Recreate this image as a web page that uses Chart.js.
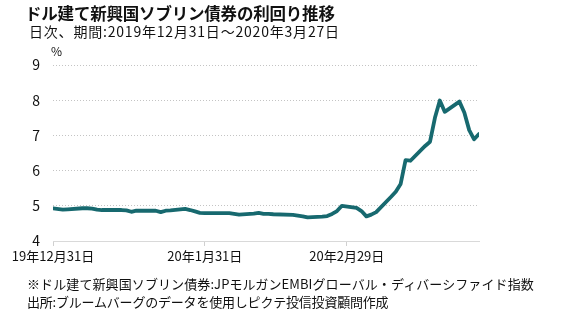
<!DOCTYPE html>
<html lang="ja">
<head>
<meta charset="utf-8">
<script src="https://cdn.jsdelivr.net/npm/chart.js@4"></script>
<style>
  html, body { margin: 0; padding: 0; background: #fff; }
  body { width: 575px; height: 322px; position: relative; overflow: hidden;
         font-family: "Noto Sans CJK JP", "Noto Sans", sans-serif; color: #111; }
  #wrap { position: absolute; left: 0; top: 0; width: 575px; height: 322px; }
  .txt { position: absolute; white-space: nowrap; line-height: 1; }
  #title { left: 25px; top: 5px; font-size: 16.5px; font-weight: bold; letter-spacing: -0.2px; }
  #sub { left: 29px; top: 24px; font-size: 14px; letter-spacing: 0.8px; }
  #unit { left: 51px; top: 45px; font-size: 12px; }
  #note1 { left: 27px; top: 277px; font-size: 13px; letter-spacing: 0.1px; }
  #note2 { left: 27px; top: 295px; font-size: 13px; letter-spacing: -0.2px; }
</style>
</head>
<body>
<div id="wrap"><canvas id="c" width="575" height="322"></canvas></div>
<div class="txt" id="title">ドル建て新興国ソブリン債券の利回り推移</div>
<div class="txt" id="sub">日次、期間:2019年12月31日～2020年3月27日</div>
<div class="txt" id="unit">%</div>
<div class="txt" id="note1">※ドル建て新興国ソブリン債券:JPモルガンEMBIグローバル・ディバーシファイド指数</div>
<div class="txt" id="note2">出所:ブルームバーグのデータを使用しピクテ投信投資顧問作成</div>
<script>
// Trading dates and yields (%)
const dates = [
  "2019-12-31",
  "2020-01-02","2020-01-03","2020-01-06","2020-01-07","2020-01-08","2020-01-09","2020-01-10",
  "2020-01-13","2020-01-14","2020-01-15","2020-01-16","2020-01-17",
  "2020-01-21","2020-01-22","2020-01-23","2020-01-24",
  "2020-01-27","2020-01-28","2020-01-29","2020-01-30","2020-01-31",
  "2020-02-03","2020-02-04","2020-02-05","2020-02-06","2020-02-07",
  "2020-02-10","2020-02-11","2020-02-12","2020-02-13","2020-02-14",
  "2020-02-18","2020-02-19","2020-02-20","2020-02-21",
  "2020-02-24","2020-02-25","2020-02-26","2020-02-27","2020-02-28",
  "2020-03-02","2020-03-03","2020-03-04","2020-03-05","2020-03-06",
  "2020-03-09","2020-03-10","2020-03-11","2020-03-12","2020-03-13",
  "2020-03-16","2020-03-17","2020-03-18","2020-03-19","2020-03-20",
  "2020-03-23","2020-03-24","2020-03-25","2020-03-26","2020-03-27"
];
const yields = [
  4.93,
  4.89, 4.90, 4.93, 4.93, 4.92, 4.89, 4.88,
  4.88, 4.88, 4.87, 4.83, 4.86,
  4.86, 4.82, 4.86, 4.87,
  4.91, 4.88, 4.84, 4.80, 4.79,
  4.79, 4.79, 4.79, 4.77, 4.75,
  4.78, 4.80, 4.77, 4.77, 4.76,
  4.74, 4.72, 4.70, 4.67,
  4.69, 4.71, 4.77, 4.85, 5.00,
  4.94, 4.85, 4.70, 4.75, 4.82,
  5.25, 5.40, 5.62, 6.30, 6.28,
  6.70, 6.82, 7.50, 7.99, 7.67,
  7.96, 7.65, 7.15, 6.89, 7.04
];
const tickDates = ["2019-12-31", "2020-01-31", "2020-02-29"];
const tickLabels = ["19年12月31日", "20年1月31日", "20年2月29日"];
const yTicks = [4, 5, 6, 7, 8, 9];

const DAY = 86400000;
const origin = Date.UTC(2019, 11, 31);
const dayOffset = s => {
  const [y, m, d] = s.split("-").map(Number);
  return Math.round((Date.UTC(y, m - 1, d) - origin) / DAY);
};
const points = dates.map((d, i) => ({ x: dayOffset(d), y: yields[i] }));
const tickPos = tickDates.map(dayOffset);
const lastDay = dayOffset(dates[dates.length - 1]);

const FONT = "'Noto Sans CJK JP', 'Noto Sans', sans-serif";

new Chart(document.getElementById("c"), {
  type: "line",
  data: {
    datasets: [{
      data: points,
      borderColor: "#17696f",
      borderWidth: 3.8,
      pointRadius: 0,
      tension: 0,
      borderJoinStyle: "round",
      borderCapStyle: "round"
    }]
  },
  options: {
    responsive: false,
    animation: false,
    events: [],
    layout: { padding: { left: 0, right: 96, top: 65, bottom: 0 } },
    plugins: { legend: { display: false }, tooltip: { enabled: false }, title: { display: false } },
    scales: {
      x: {
        type: "linear",
        min: 0,
        max: lastDay,
        afterBuildTicks: s => { s.ticks = tickPos.map(v => ({ value: v })); },
        afterFit: s => { s.height = 81; },
        ticks: {
          autoSkip: false,
          maxRotation: 0,
          padding: 2,
          color: "#111",
          font: { family: FONT, size: 13 },
          callback: v => tickLabels[tickPos.indexOf(v)]
        },
        grid: { drawOnChartArea: false, drawTicks: true, tickLength: 5, color: "#d0d0d0" },
        border: { display: true, color: "#d9d9d9", width: 1 }
      },
      y: {
        min: 4,
        max: 9,
        afterBuildTicks: s => { s.ticks = yTicks.map(v => ({ value: v })); },
        afterFit: s => { s.width = 53; },
        ticks: {
          padding: 13,
          color: "#111",
          font: { family: FONT, size: 14 }
        },
        grid: {
          drawTicks: false,
          color: c => (c.tick && c.tick.value === 4) ? "rgba(0,0,0,0)" : "#c4c4c4",
          lineWidth: 1
        },
        border: { display: false, dash: [1, 2] }
      }
    }
  }
});
</script>
</body>
</html>
